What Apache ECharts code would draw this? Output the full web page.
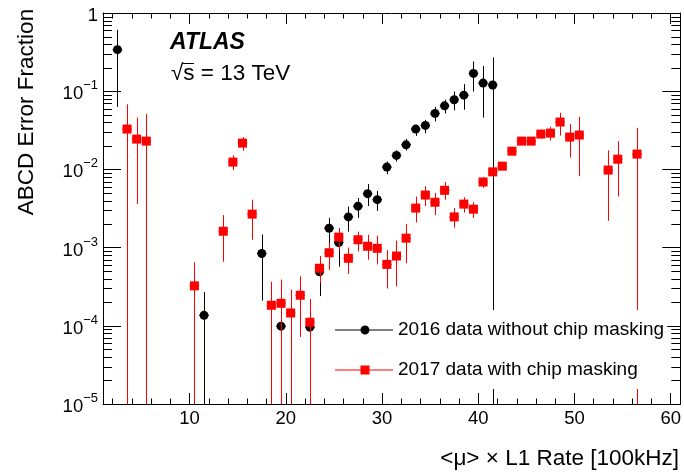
<!DOCTYPE html>
<html><head><meta charset="utf-8">
<script src="https://cdn.jsdelivr.net/npm/echarts@6/dist/echarts.min.js"></script>
<style>html,body{margin:0;padding:0;background:#fff}#c{width:684px;height:474px}</style>
</head><body><div id="c"></div>
<script>
const FONT = '"Liberation Sans", Arial, Helvetica, sans-serif';

// 2016 data without chip masking
const x2016  = [2.5, 11.5, 17.5, 19.5, 22.5, 23.5, 24.5, 25.5, 26.5, 27.5, 28.5, 29.5, 30.5, 31.5, 32.5, 33.5, 34.5, 35.5, 36.5, 37.5, 38.5, 39.5, 40.5, 41.5];
const y2016  = [0.34, 1.36e-4, 8.4e-4, 9.9e-5, 9.6e-5, 4.9e-4, 1.77e-3, 1.16e-3, 2.47e-3, 3.39e-3, 4.9e-3, 4.1e-3, 0.0107, 0.0151, 0.0206, 0.0328, 0.0365, 0.052, 0.065, 0.0777, 0.089, 0.169, 0.127, 0.12];
const lo2016 = [0.063, 1e-6, 2.1e-4, 1e-6, 1e-6, 2.4e-4, 1.14e-3, 5.7e-4, 1.6e-3, 2.4e-3, 3.4e-3, 2.95e-3, 0.0087, 0.0126, 0.0174, 0.0268, 0.029, 0.041, 0.052, 0.057, 0.058, 0.099, 0.046, 1e-6];
const hi2016 = [0.61, 2.7e-4, 1.47e-3, 1.9e-4, 1.9e-4, 7.8e-4, 2.4e-3, 1.69e-3, 3.35e-3, 4.3e-3, 6.5e-3, 5.3e-3, 0.0126, 0.0176, 0.0245, 0.0372, 0.043, 0.063, 0.078, 0.099, 0.123, 0.24, 0.21, 0.27];

// 2017 data with chip masking
const x2017  = [3.5, 4.5, 5.5, 10.5, 13.5, 14.5, 15.5, 16.5, 18.5, 19.5, 20.5, 21.5, 22.5, 23.5, 24.5, 25.5, 26.5, 27.5, 28.5, 29.5, 30.5, 31.5, 32.5, 33.5, 34.5, 35.5, 36.5, 37.5, 38.5, 39.5, 40.5, 41.5, 42.5, 43.5, 44.5, 45.5, 46.5, 47.5, 48.5, 49.5, 50.5, 53.5, 54.5, 56.5];
const y2017  = [0.0328, 0.0244, 0.023, 3.24e-4, 1.62e-3, 0.0124, 0.0217, 2.68e-3, 1.83e-4, 1.94e-4, 1.46e-4, 2.46e-4, 1.11e-4, 5.45e-4, 8.6e-4, 1.36e-3, 7.3e-4, 1.26e-3, 1.04e-3, 9.8e-4, 6.1e-4, 7.8e-4, 1.32e-3, 3.2e-3, 4.7e-3, 3.8e-3, 5.4e-3, 2.47e-3, 3.6e-3, 3.1e-3, 6.9e-3, 9.3e-3, 0.011, 0.0171, 0.023, 0.023, 0.0283, 0.0291, 0.0403, 0.0259, 0.0275, 0.0098, 0.0135, 0.0157];
const lo2017 = [1e-6, 0.0036, 1e-6, 1e-6, 6.6e-4, 0.0098, 0.0173, 1.26e-3, 1e-6, 1e-6, 1e-6, 7.2e-5, 1e-6, 3.5e-4, 5.2e-4, 9.3e-4, 4.6e-4, 8.9e-4, 7.0e-4, 6.1e-4, 3.0e-4, 3.2e-4, 6.3e-4, 2.1e-3, 3.4e-3, 2.6e-3, 4.1e-3, 1.8e-3, 2.8e-3, 2.4e-3, 5.8e-3, 8.3e-3, 0.0099, 0.0156, 0.021, 0.021, 0.025, 0.0234, 0.027, 0.0142, 0.0082, 0.0022, 0.0045, 1e-6];
const hi2017 = [0.068, 0.046, 0.051, 6.5e-4, 2.6e-3, 0.0151, 0.0259, 4.1e-3, 3.67e-4, 3.9e-4, 2.9e-4, 4.3e-4, 2.2e-4, 7.8e-4, 1.16e-3, 1.78e-3, 1.0e-3, 1.6e-3, 1.46e-3, 1.42e-3, 9.3e-4, 1.23e-3, 2.0e-3, 4.5e-3, 6.1e-3, 5.0e-3, 6.9e-3, 3.2e-3, 4.4e-3, 3.8e-3, 8.0e-3, 1.03e-2, 0.0121, 0.0186, 0.025, 0.025, 0.032, 0.035, 0.053, 0.038, 0.047, 0.0175, 0.023, 0.034];

const seriesNames = ['2016 data without chip masking', '2017 data with chip masking'];
const xRange = [1, 61];
const yRange = [1e-5, 1];
const minorDecades = [-5, -4, -3, -2, -1];
const minorFactors = [2, 3, 4, 5, 6, 7, 8, 9];

const minorTicks = [];
minorDecades.forEach(d => minorFactors.forEach(f => minorTicks.push([xRange[0], f * Math.pow(10, d)])));

function rows(xs, ys, los, his) { return xs.map((x, i) => [x, ys[i], los[i], his[i]]); }
const d2016 = rows(x2016, y2016, lo2016, hi2016);
const d2017 = rows(x2017, y2017, lo2017, hi2017);

function errRender(params, api) {
  const cs = params.coordSys;
  const top = cs.y, bot = cs.y + cs.height;
  const clamp = v => Math.min(bot, Math.max(top, v));
  const x = api.value(0), y = api.value(1), lo = api.value(2), hi = api.value(3);
  const p = api.coord([x, y]);
  const pl = api.coord([x, lo]), ph = api.coord([x, hi]);
  const a = api.coord([x - 0.5, y]), b = api.coord([x + 0.5, y]);
  const color = api.visual('color');
  const px = Math.round(p[0]) + 0.5;
  return {type: 'group', children: [
    {type: 'line', shape: {x1: px, y1: clamp(pl[1]), x2: px, y2: clamp(ph[1])}, style: {stroke: color, lineWidth: 1}},
    {type: 'line', shape: {x1: a[0], y1: p[1], x2: b[0], y2: p[1]}, style: {stroke: color, lineWidth: 1}}
  ]};
}

function minorRender(params, api) {
  const cs = params.coordSys;
  const y = Math.round(api.coord([api.value(0), api.value(1)])[1]) + 0.5;
  return {type: 'group', children: [
    {type: 'line', shape: {x1: cs.x, y1: y, x2: cs.x + 9, y2: y}, style: {stroke: '#000', lineWidth: 1}},
    {type: 'line', shape: {x1: cs.x + cs.width, y1: y, x2: cs.x + cs.width - 9, y2: y}, style: {stroke: '#000', lineWidth: 1}}
  ]};
}

function yLabel(v) {
  const e = Math.round(Math.log10(v));
  if (e === 0) return '{b|1}';
  return '{b|10}{s|' + (e < 0 ? '\u2212' : '') + Math.abs(e) + '}';
}

const xAxisBase = {
  type: 'value', min: xRange[0], max: xRange[1],
  axisLine: {show: true, onZero: false, lineStyle: {color: '#000', width: 1}},
  axisTick: {show: true, inside: true, length: 11, lineStyle: {color: '#000'}},
  minorTick: {show: true, splitNumber: 5, length: 5.5, lineStyle: {color: '#000'}},
  splitLine: {show: false}, minorSplitLine: {show: false}
};
const yAxisBase = {
  type: 'log', logBase: 10, min: yRange[0], max: yRange[1],
  axisLine: {show: true, onZero: false, lineStyle: {color: '#000', width: 1}},
  axisTick: {show: true, inside: true, length: 18, lineStyle: {color: '#000'}},
  minorTick: {show: false},
  splitLine: {show: false}, minorSplitLine: {show: false}
};

const option = {
  animation: false,
  backgroundColor: '#fff',
  grid: {left: 103, right: 3, top: 13, bottom: 70},
  xAxis: [
    Object.assign({}, xAxisBase, {position: 'bottom',
      axisLabel: {show: true, margin: 5, color: '#000', fontFamily: FONT, fontSize: 18.5, showMinLabel: false, showMaxLabel: false}}),
    Object.assign({}, xAxisBase, {position: 'top', axisLabel: {show: false}})
  ],
  yAxis: [
    Object.assign({}, yAxisBase, {position: 'left',
      axisLabel: {show: true, margin: 5, formatter: yLabel,
        rich: {
          b: {fontFamily: FONT, fontSize: 18.5, color: '#000', lineHeight: 24, padding: [6, 0, 0, 0]},
          s: {fontFamily: FONT, fontSize: 13, color: '#000', verticalAlign: 'top', lineHeight: 14}
        }}}),
    Object.assign({}, yAxisBase, {position: 'right', axisLabel: {show: false}})
  ],
  legend: {
    orient: 'vertical', left: 330, top: 310, padding: [10, 3, 9, 5],
    backgroundColor: '#fff', itemGap: 20, itemWidth: 58, itemHeight: 9, z: 10,
    textStyle: {fontFamily: FONT, fontSize: 19, color: '#000', lineHeight: 20},
    data: [
      {name: seriesNames[0], icon: 'path://M0,4.5H25.5V5.5H0Z M34.5,4.5H58V5.5H34.5Z M34.5,5A4.5,4.5,0,1,1,25.5,5A4.5,4.5,0,1,1,34.5,5Z', itemStyle: {color: '#000'}},
      {name: seriesNames[1], icon: 'path://M0,4.5H25.5V5.5H0Z M34.5,4.5H58V5.5H34.5Z M25.5,0.5H34.5V9.5H25.5Z', itemStyle: {color: '#ff0000'}}
    ]
  },
  series: [
    {type: 'custom', name: 'minor', silent: true, renderItem: minorRender, data: minorTicks, z: 1,
      itemStyle: {color: '#000'}, encode: {x: 0, y: 1}},
    {type: 'custom', name: seriesNames[0], renderItem: errRender, data: d2016, z: 2,
      itemStyle: {color: '#000'}, encode: {x: 0, y: 1}},
    {type: 'scatter', name: seriesNames[0], data: d2016.map(r => [r[0], r[1]]), symbol: 'circle', symbolSize: 9, z: 3,
      itemStyle: {color: '#000', opacity: 1}},
    {type: 'custom', name: seriesNames[1], renderItem: errRender, data: d2017, z: 4,
      itemStyle: {color: '#ff0000'}, encode: {x: 0, y: 1}},
    {type: 'scatter', name: seriesNames[1], data: d2017.map(r => [r[0], r[1]]), symbol: 'rect', symbolSize: 9, z: 5,
      itemStyle: {color: '#ff0000', opacity: 1}}
  ],
  graphic: [
    {type: 'text', x: 170, y: 43, z: 10, style: {text: 'ATLAS', font: 'italic bold 23px ' + FONT, fill: '#000', textAlign: 'left', textVerticalAlign: 'middle'}},
    {type: 'text', x: 171, y: 74, z: 10, style: {text: '\u221As = 13 TeV', font: '22.5px ' + FONT, fill: '#000', textAlign: 'left', textVerticalAlign: 'middle'}},
    {type: 'line', z: 10, shape: {x1: 182, y1: 63.5, x2: 194, y2: 63.5}, style: {stroke: '#000', lineWidth: 1}},
    {type: 'text', x: 679, y: 459, z: 10, style: {text: '<\u03BC> \u00D7 L1 Rate [100kHz]', font: '22.5px ' + FONT, fill: '#000', textAlign: 'right', textVerticalAlign: 'middle'}},
    {type: 'text', x: 27, y: 112, rotation: Math.PI / 2, z: 10, style: {text: 'ABCD Error Fraction', font: '22.5px ' + FONT, fill: '#000', textAlign: 'center', textVerticalAlign: 'middle'}}
  ]
};

const chart = echarts.init(document.getElementById('c'));
chart.setOption(option);
</script>
</body></html>
